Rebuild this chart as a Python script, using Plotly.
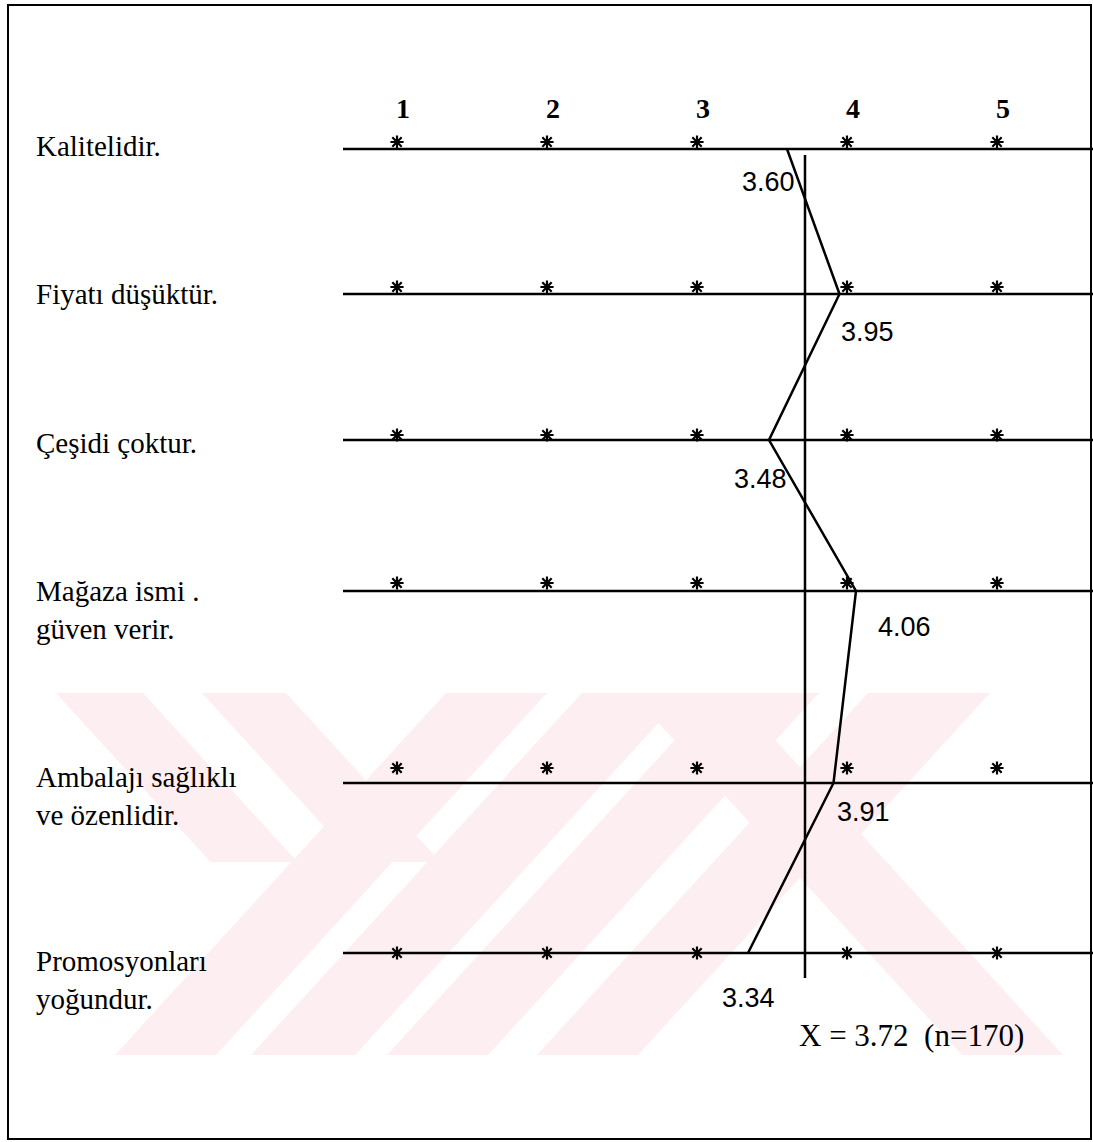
import plotly.graph_objects as go

# ---------------- data ----------------
statements = [
    "Kalitelidir.",
    "Fiyatı düşüktür.",
    "Çeşidi çoktur.",
    "Mağaza ismi .<br>güven verir.",
    "Ambalajı sağlıklı<br>ve özenlidir.",
    "Promosyonları<br>yoğundur.",
]
means = [3.60, 3.95, 3.48, 4.06, 3.91, 3.34]
mean_labels = ["3.60", "3.95", "3.48", "4.06", "3.91", "3.34"]
scale_points = [1, 2, 3, 4, 5]
scale_labels = ["1", "2", "3", "4", "5"]
overall_mean = 3.72
overall_label = "X = 3.72\u00a0\u00a0(n=170)"

# ---------------- layout constants (pixels) ----------------
W, H = 1093, 1142
X_PX0, X_STEP = 397, 150             # pixel of scale point 1, pixels per unit
row_y = [149, 294, 440, 591, 783, 953]
label_y = [146, 294, 443, 610, 796, 980]
star_dy = [-7, -7, -5, -8, -15, 0]
value_off = [(-19, 33), (28, 38), (-9, 39), (48, 36), (30, 29), (0, 45)]
line_start_px, line_end_px = 343, 1093
mean_line_px = (155, 978)

def px2v(px):
    return 1 + (px - X_PX0) / X_STEP

SERIF = "Liberation Serif, Times New Roman, serif"
SANS = "Liberation Sans, Arial, sans-serif"

fig = go.Figure()

# watermark (faint pink stripes)
pink = "rgb(253,238,241)"
wm_top, wm_bot = 693, 1055
slope = 0.914
def para(xb0, xb1, ytop, ybot, direction):
    # direction +1: "/" (top shifted right), -1: "\" (top shifted left)
    dx = direction * slope * (ybot - ytop)
    pts = [(xb0, ybot), (xb1, ybot), (xb1 + dx, ytop), (xb0 + dx, ytop)]
    path = "M " + " L ".join(f"{x/W:.5f},{y}" for x, y in pts) + " Z"
    return dict(type="path", path=path, xref="paper", yref="y",
                fillcolor=pink, line=dict(width=0), layer="below")

shapes = []
for b0, b1 in [(115, 216), (251, 355), (387, 488), (537, 638)]:
    shapes.append(para(b0, b1, wm_top, wm_bot, 1))
# left "\" arms of the Y
for t0, t1 in [(56, 143), (202, 286)]:
    d = slope * (862 - wm_top)
    shapes.append(para(t0 + d, t1 + d, wm_top, 862, -1))
# right "\" stripe of K
shapes.append(para(962, 1063, wm_top, wm_bot, -1))
# right "/" arm of K
d = slope * (862 - wm_top)
shapes.append(para(885 - d, 990 - d, wm_top, 862, 1))

# border
shapes.append(dict(type="rect", xref="paper", yref="y", x0=8 / W, x1=1091 / W,
                   y0=5, y1=1139, line=dict(color="black", width=2)))

# horizontal row lines
for yy in row_y:
    fig.add_trace(go.Scatter(x=[px2v(line_start_px), px2v(line_end_px)], y=[yy, yy],
                             mode="lines", line=dict(color="black", width=2.5),
                             hoverinfo="skip", showlegend=False))

# asterisks at scale points
for yy, dy in zip(row_y, star_dy):
    fig.add_trace(go.Scatter(x=scale_points, y=[yy + dy] * len(scale_points),
                             mode="markers",
                             marker=dict(symbol="asterisk-open", size=11, color="black",
                                         line=dict(color="black", width=2.2)),
                             hoverinfo="skip", showlegend=False))

# overall mean vertical line
fig.add_trace(go.Scatter(x=[overall_mean, overall_mean], y=list(mean_line_px),
                         mode="lines", line=dict(color="black", width=2.5),
                         hoverinfo="skip", showlegend=False))

# profile line
fig.add_trace(go.Scatter(x=means, y=row_y, mode="lines",
                         line=dict(color="black", width=2.5),
                         showlegend=False))

annotations = []
# scale numbers
for sp, lab in zip(scale_points, scale_labels):
    annotations.append(dict(x=sp, y=108, xref="x", yref="y", text=f"<b>{lab}</b>",
                            showarrow=False, xshift=6,
                            font=dict(family=SERIF, size=28, color="black")))
# statement labels
for st, ly in zip(statements, label_y):
    annotations.append(dict(x=34 / W, y=ly, xref="paper", yref="y", text=st,
                            showarrow=False, xanchor="left", yanchor="middle",
                            align="left",
                            font=dict(family=SERIF, size=29, color="black")))
# mean value labels
for m, lab, yy, (dx, dy) in zip(means, mean_labels, row_y, value_off):
    annotations.append(dict(x=m, y=yy + dy, xref="x", yref="y", text=lab,
                            showarrow=False, xshift=dx,
                            font=dict(family=SANS, size=27, color="black")))
# overall mean text
annotations.append(dict(x=overall_mean, y=1035, xref="x", yref="y",
                        text=overall_label, showarrow=False, xanchor="left",
                        xshift=-8,
                        font=dict(family=SERIF, size=31, color="black")))

fig.update_layout(
    width=W, height=H,
    margin=dict(l=0, r=0, t=0, b=0),
    paper_bgcolor="white", plot_bgcolor="white",
    xaxis=dict(range=[px2v(0), px2v(W)], visible=False, fixedrange=True),
    yaxis=dict(range=[H, 0], visible=False, fixedrange=True),
    shapes=shapes, annotations=annotations,
    showlegend=False,
)

fig.write_html("out.html",
               config={"displayModeBar": False},
               post_script="document.body.style.margin='0';document.body.style.overflow='hidden';")
